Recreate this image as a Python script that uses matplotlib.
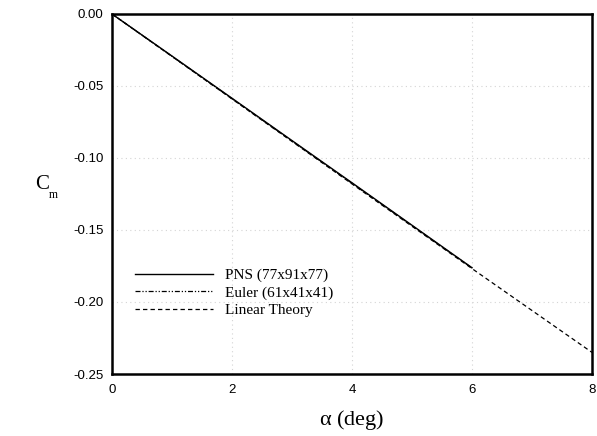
import numpy as np
import matplotlib.pyplot as plt

# data
alpha_pns = [0, 1, 2, 3, 4, 5, 6]
cm_pns = [0.0, -0.0292, -0.0585, -0.0879, -0.1172, -0.1467, -0.1762]

alpha_euler = [0, 1, 2, 3, 4, 5, 6]
cm_euler = [0.0, -0.0294, -0.0588, -0.0882, -0.1176, -0.1470, -0.1764]

alpha_lin = [0, 2, 4, 6, 8]
cm_lin = [0.0, -0.0590, -0.1180, -0.1768, -0.2350]

xticks = [0, 2, 4, 6, 8]
yticks = [0.0, -0.05, -0.10, -0.15, -0.20, -0.25]

fig = plt.figure(figsize=(5.97, 4.36), dpi=100)
ax = fig.add_axes([0.1876, 0.1422, 0.804, 0.8257])

ax.plot(alpha_pns, cm_pns, color='black', linewidth=1.0, label='PNS (77x91x77)')
ax.plot(alpha_euler, cm_euler, color='black', linewidth=0.9,
        linestyle=(0, (4, 1.5, 1, 1.5, 1, 1.5)), label='Euler (61x41x41)')
ax.plot(alpha_lin, cm_lin, color='black', linewidth=0.9,
        linestyle=(0, (3.5, 2.5)), label='Linear Theory')

ax.set_xlim(0, 8)
ax.set_ylim(-0.25, 0.0)
ax.set_xticks(xticks)
ax.set_yticks(yticks)
ax.set_yticklabels(['{:.2f}'.format(v) if v != 0 else '0.00' for v in yticks])
ax.tick_params(length=0, labelsize=9.5)
ax.tick_params(axis='x', pad=7)
ax.tick_params(axis='y', pad=6)
for lab in ax.get_xticklabels() + ax.get_yticklabels():
    lab.set_family('Liberation Sans')

ax.grid(True, color='#d4d4d4', linestyle=(0, (1, 3)), linewidth=0.8)
for s in ax.spines.values():
    s.set_linewidth(1.8)

ax.set_xlabel(r'$\mathregular{\alpha}$ (deg)', family='Liberation Serif', fontsize=16, labelpad=9)
# y label: C with a small subscript m
fig.text(0.071, 0.576, 'C', family='Liberation Serif', fontsize=15,
         ha='center', va='center')
fig.text(0.090, 0.552, 'm', family='Liberation Serif', fontsize=8.5,
         ha='center', va='center')

leg = ax.legend(loc='upper left', bbox_to_anchor=(0.02, 0.332), frameon=False,
                prop={'family': 'Liberation Serif', 'size': 11},
                handlelength=5.1, handletextpad=0.75, labelspacing=0.25)

fig.savefig('out.png', dpi=100)
